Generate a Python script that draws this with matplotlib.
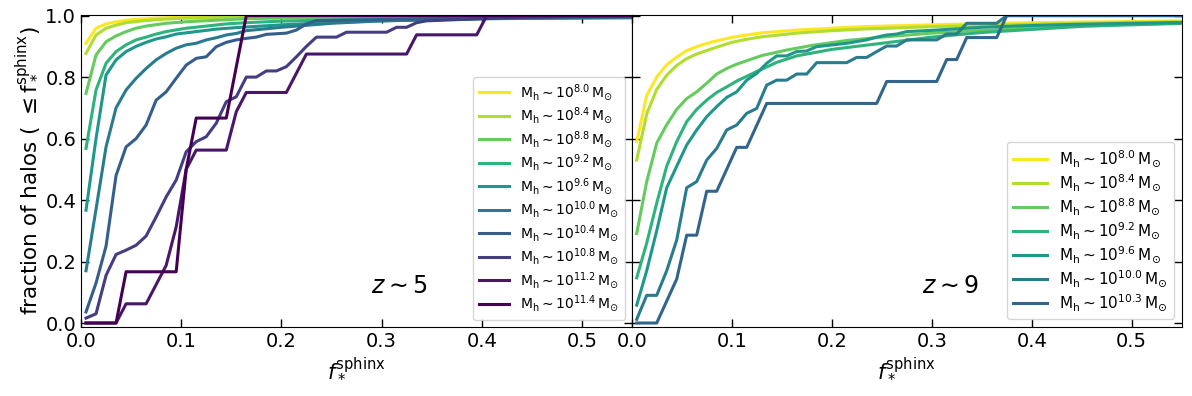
import matplotlib
matplotlib.use("Agg")
import matplotlib.pyplot as plt
import numpy as np

# ---------------- data: z ~ 5 panel (left) ----------------
left_masses = [8.0, 8.4, 8.8, 9.2, 9.6, 10.0, 10.4, 10.8, 11.2, 11.4]

L80_f = [0.005, 0.015, 0.025, 0.035, 0.045, 0.055, 0.075, 0.1, 0.15, 0.2, 0.3, 0.555]
L80_y = [0.91, 0.959, 0.973, 0.98, 0.985, 0.988, 0.992, 0.995, 0.997, 0.998, 0.999, 1.0]

L84_f = [0.005, 0.015, 0.025, 0.035, 0.045, 0.055, 0.075, 0.1, 0.15, 0.2, 0.3, 0.555]
L84_y = [0.877, 0.937, 0.959, 0.969, 0.977, 0.981, 0.987, 0.991, 0.995, 0.997, 0.999, 1.0]

L88_f = [0.005, 0.015, 0.025, 0.035, 0.045, 0.055, 0.065, 0.085, 0.105, 0.165, 0.25, 0.35, 0.555]
L88_y = [0.747, 0.872, 0.915, 0.934, 0.948, 0.959, 0.966, 0.975, 0.98, 0.99, 0.995, 0.998, 1.0]

L92_f = [0.005, 0.015, 0.025, 0.035, 0.045, 0.055, 0.065, 0.075, 0.085, 0.105, 0.125, 0.145, 0.165, 0.2, 0.3, 0.4, 0.555]
L92_y = [0.568, 0.758, 0.845, 0.883, 0.905, 0.921, 0.93, 0.94, 0.948, 0.959, 0.966, 0.973, 0.977, 0.982, 0.99, 0.995, 0.998]

L96_f = [0.005, 0.015, 0.025, 0.035, 0.045, 0.055, 0.065, 0.075, 0.085, 0.095, 0.115, 0.135, 0.155, 0.165, 0.2, 0.25, 0.3, 0.4, 0.555]
L96_y = [0.367, 0.6, 0.807, 0.856, 0.883, 0.9, 0.913, 0.924, 0.931, 0.94, 0.948, 0.956, 0.961, 0.963, 0.97, 0.978, 0.983, 0.99, 0.995]

L100_f = [0.005, 0.015, 0.025, 0.035, 0.045, 0.055, 0.065, 0.075, 0.085, 0.095, 0.105, 0.115, 0.125, 0.135, 0.145, 0.155, 0.165, 0.2, 0.25, 0.3, 0.4, 0.555]
L100_y = [0.17, 0.37, 0.573, 0.70, 0.758, 0.796, 0.828, 0.856, 0.877, 0.894, 0.905, 0.91, 0.921, 0.928, 0.937, 0.942, 0.951, 0.962, 0.975, 0.983, 0.99, 0.993]

L104_f = [0.005, 0.015, 0.025, 0.035, 0.045, 0.055, 0.065, 0.075, 0.085, 0.095, 0.105, 0.115, 0.125, 0.135, 0.145, 0.155, 0.165, 0.175, 0.185, 0.205, 0.215, 0.225, 0.235, 0.3, 0.35, 0.4, 0.555]
L104_y = [0.036, 0.13, 0.25, 0.48, 0.573, 0.60, 0.644, 0.725, 0.752, 0.796, 0.839, 0.861, 0.866, 0.899, 0.913, 0.921, 0.926, 0.93, 0.939, 0.943, 0.953, 0.973, 0.984, 0.987, 0.99, 0.995, 0.997]

L108_f = [0.005, 0.015, 0.025, 0.035, 0.045, 0.055, 0.065, 0.075, 0.085, 0.095, 0.105, 0.115, 0.125, 0.135, 0.145, 0.155, 0.165, 0.175, 0.185, 0.195, 0.205, 0.215, 0.225, 0.235, 0.255, 0.265, 0.305, 0.315, 0.325, 0.335, 0.345, 0.4, 0.45, 0.555]
L108_y = [0.016, 0.03, 0.155, 0.223, 0.237, 0.253, 0.283, 0.345, 0.41, 0.465, 0.557, 0.59, 0.606, 0.65, 0.72, 0.736, 0.80, 0.80, 0.82, 0.82, 0.834, 0.866, 0.90, 0.93, 0.93, 0.946, 0.946, 0.962, 0.962, 0.977, 0.983, 0.99, 0.995, 1.0]

L112_f = [0.005, 0.035, 0.045, 0.065, 0.075, 0.085, 0.095, 0.105, 0.115, 0.145, 0.155, 0.165, 0.205, 0.215, 0.225, 0.325, 0.335, 0.395, 0.405, 0.555]
L112_y = [0.0, 0.0, 0.0625, 0.0625, 0.125, 0.1875, 0.3125, 0.5, 0.5625, 0.5625, 0.6875, 0.75, 0.75, 0.8125, 0.875, 0.875, 0.9375, 0.9375, 1.0, 1.0]

L114_f = [0.005, 0.035, 0.045, 0.095, 0.105, 0.115, 0.145, 0.155, 0.165, 0.555]
L114_y = [0.0, 0.0, 0.1667, 0.1667, 0.5, 0.6667, 0.6667, 0.8333, 1.0, 1.0]

left_f = [L80_f, L84_f, L88_f, L92_f, L96_f, L100_f, L104_f, L108_f, L112_f, L114_f]
left_y = [L80_y, L84_y, L88_y, L92_y, L96_y, L100_y, L104_y, L108_y, L112_y, L114_y]

# ---------------- data: z ~ 9 panel (right) ----------------
right_masses = [8.0, 8.4, 8.8, 9.2, 9.6, 10.0, 10.3]

R80_f = [0.005, 0.015, 0.025, 0.035, 0.045, 0.055, 0.065, 0.08, 0.1, 0.115, 0.13, 0.165, 0.2, 0.23, 0.3, 0.35, 0.4, 0.45, 0.5, 0.555]
R80_y = [0.59, 0.74, 0.80, 0.84, 0.865, 0.886, 0.899, 0.914, 0.929, 0.937, 0.944, 0.953, 0.959, 0.964, 0.97, 0.974, 0.977, 0.979, 0.981, 0.983]

R84_f = [0.005, 0.015, 0.025, 0.035, 0.045, 0.055, 0.065, 0.08, 0.1, 0.115, 0.13, 0.165, 0.2, 0.23, 0.3, 0.35, 0.4, 0.45, 0.5, 0.555]
R84_y = [0.53, 0.68, 0.76, 0.806, 0.838, 0.86, 0.875, 0.892, 0.913, 0.923, 0.931, 0.943, 0.951, 0.956, 0.964, 0.968, 0.972, 0.975, 0.978, 0.98]

R88_f = [0.005, 0.015, 0.025, 0.035, 0.045, 0.055, 0.065, 0.075, 0.085, 0.095, 0.105, 0.13, 0.155, 0.18, 0.215, 0.25, 0.3, 0.35, 0.4, 0.45, 0.5, 0.555]
R88_y = [0.291, 0.46, 0.585, 0.645, 0.695, 0.73, 0.752, 0.78, 0.81, 0.828, 0.842, 0.87, 0.888, 0.903, 0.919, 0.93, 0.943, 0.952, 0.96, 0.967, 0.972, 0.976]

R92_f = [0.005, 0.015, 0.025, 0.035, 0.045, 0.055, 0.065, 0.075, 0.085, 0.095, 0.105, 0.125, 0.145, 0.165, 0.2, 0.25, 0.3, 0.35, 0.4, 0.45, 0.5, 0.555]
R92_y = [0.147, 0.26, 0.39, 0.51, 0.59, 0.655, 0.695, 0.725, 0.75, 0.768, 0.787, 0.818, 0.848, 0.869, 0.89, 0.91, 0.93, 0.945, 0.955, 0.965, 0.97, 0.975]

R96_f = [0.005, 0.015, 0.025, 0.035, 0.045, 0.055, 0.065, 0.075, 0.085, 0.095, 0.105, 0.115, 0.125, 0.135, 0.145, 0.155, 0.165, 0.175, 0.185, 0.215, 0.235, 0.245, 0.255, 0.265, 0.275, 0.3, 0.35, 0.4, 0.45, 0.5, 0.555]
R96_y = [0.058, 0.17, 0.30, 0.44, 0.51, 0.579, 0.628, 0.671, 0.704, 0.734, 0.752, 0.79, 0.812, 0.845, 0.869, 0.869, 0.883, 0.885, 0.899, 0.91, 0.921, 0.93, 0.937, 0.94, 0.948, 0.952, 0.962, 0.968, 0.972, 0.975, 0.978]

R100_f = [0.005, 0.015, 0.025, 0.035, 0.045, 0.055, 0.065, 0.075, 0.085, 0.095, 0.105, 0.115, 0.125, 0.135, 0.145, 0.155, 0.165, 0.175, 0.185, 0.215, 0.225, 0.235, 0.245, 0.255, 0.265, 0.275, 0.305, 0.315, 0.325, 0.335, 0.365, 0.375, 0.555]
R100_y = [0.012, 0.09, 0.09, 0.17, 0.27, 0.44, 0.46, 0.53, 0.568, 0.628, 0.644, 0.682, 0.698, 0.774, 0.79, 0.79, 0.81, 0.81, 0.847, 0.847, 0.864, 0.864, 0.883, 0.901, 0.901, 0.921, 0.921, 0.94, 0.94, 0.975, 0.975, 1.0, 1.0]

R103_f = [0.005, 0.025, 0.035, 0.045, 0.055, 0.065, 0.075, 0.085, 0.095, 0.105, 0.115, 0.125, 0.135, 0.245, 0.255, 0.305, 0.315, 0.325, 0.335, 0.365, 0.375, 0.555]
R103_y = [0.0, 0.0, 0.0714, 0.1429, 0.2857, 0.2857, 0.4286, 0.4286, 0.5, 0.5714, 0.5714, 0.6429, 0.7143, 0.7143, 0.7857, 0.7857, 0.8571, 0.8571, 0.9286, 0.9286, 1.0, 1.0]

right_f = [R80_f, R84_f, R88_f, R92_f, R96_f, R100_f, R103_f]
right_y = [R80_y, R84_y, R88_y, R92_y, R96_y, R100_y, R103_y]

xticks = [0.0, 0.1, 0.2, 0.3, 0.4, 0.5]
yticks = [0.0, 0.2, 0.4, 0.6, 0.8, 1.0]

# ---------------- plotting ----------------
cmap = plt.get_cmap("viridis")
def mcolor(m):
    return cmap((11.4 - m) / 3.4)

fig = plt.figure(figsize=(11.92, 3.96), dpi=100)
axL = fig.add_axes([81 / 1192, 69.3 / 396, 551 / 1192, 311.7 / 396])
axR = fig.add_axes([631.7 / 1192, 69.3 / 396, 550 / 1192, 311.7 / 396], sharey=axL)

lw = 2.2
for m, f, y in zip(left_masses, left_f, left_y):
    axL.plot(f, y, color=mcolor(m), lw=lw,
             label=r"$\rm M_h \sim 10^{%.1f}\,M_{\odot}$" % m)
for m, f, y in zip(right_masses, right_f, right_y):
    axR.plot(f, y, color=mcolor(m), lw=lw,
             label=r"$\rm M_h \sim 10^{%.1f}\,M_{\odot}$" % m)

for ax in (axL, axR):
    ax.set_xlim(0, 0.55)
    ax.set_ylim(-0.012, 1.002)
    ax.set_xticks(xticks)
    ax.set_yticks(yticks)
    ax.tick_params(direction="in", top=True, right=True, labelsize=14,
                   length=6, width=1)
    ax.set_xlabel(r"$f_*^{\rm sphinx}$", fontsize=15)

axR.tick_params(labelleft=False)
axL.set_ylabel(r"fraction of halos ( $\leq \rm f_*^{sphinx}$)", fontsize=15.5,
               labelpad=3)

axL.legend(loc="lower right", fontsize=10, handlelength=2.2, labelspacing=0.23)
axR.legend(loc="lower right", fontsize=11, handlelength=2.2, labelspacing=0.22)

axL.text(0.577, 0.13, r"$z\sim5$", transform=axL.transAxes, fontsize=17,
         ha="center", va="center")
axR.text(0.579, 0.13, r"$z\sim9$", transform=axR.transAxes, fontsize=17,
         ha="center", va="center")

fig.savefig("out.png", dpi=100)
